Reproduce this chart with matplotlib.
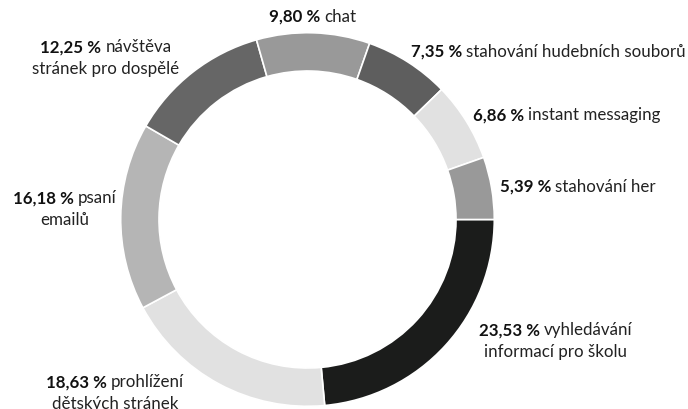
import matplotlib
matplotlib.use('Agg')
import matplotlib.pyplot as plt

plt.rcParams['font.family'] = ['Lato', 'DejaVu Sans']

# data (order clockwise from 3 o'clock)
values = [23.53, 18.63, 16.18, 12.25, 9.80, 7.35, 6.86, 5.39]
pct_text = ['23,53 %', '18,63 %', '16,18 %', '12,25 %', '9,80 %', '7,35 %', '6,86 %', '5,39 %']
line1 = ['vyhledávání', 'prohlížení', 'psaní', 'návštěva', 'chat',
         'stahování hudebních souborů', 'instant messaging', 'stahování her']
line2 = ['informací pro školu', 'dětských stránek', 'emailů', 'stránek pro dospělé',
         None, None, None, None]
colors = ['#1b1c1b', '#e1e1e1', '#b5b5b5', '#666666', '#999999', '#5e5e5e', '#e1e1e1', '#999999']

# label layout (data coords, radius 1 = outer edge) and alignment
label_xy = [(1.33, -0.653), (-1.031, -0.93), (-1.298, 0.054), (-1.079, 0.862),
            (0.029, 1.084), (0.554, 0.897), (0.886, 0.559), (1.031, 0.174)]
label_ha = ['center', 'center', 'center', 'center', 'center', 'left', 'left', 'left']

W, H = 688, 409
cx, cy, R = 307.5, 219.5, 186.8
fig = plt.figure(figsize=(W / 100, H / 100), dpi=100)
ax = fig.add_axes([(cx - R) / W, (H - cy - R) / H, 2 * R / W, 2 * R / H])
ax.pie(values, colors=colors, startangle=0, counterclock=False, radius=1,
       wedgeprops=dict(width=0.205, edgecolor='white', linewidth=1.2))
ax.set_xlim(-1, 1)
ax.set_ylim(-1, 1)
ax.set_aspect('equal')
ax.axis('off')

fs = 12.2
rend = fig.canvas.get_renderer()
gap = 4
lh = 22


def put_label(xy, bold, rest, second, ha):
    tb = ax.annotate(bold, xy=xy, xytext=(0, 0), textcoords='offset pixels',
                     fontsize=fs, fontweight='bold', color='#111111', ha='left', va='center',
                     annotation_clip=False)
    tr = ax.annotate(rest, xy=xy, xytext=(0, 0), textcoords='offset pixels',
                     fontsize=fs, color='#222222', ha='left', va='center',
                     annotation_clip=False)
    wb = tb.get_window_extent(rend).width
    wr = tr.get_window_extent(rend).width
    total = wb + gap + wr
    x0 = -total / 2 if ha == 'center' else 0
    y1 = lh / 2 if second else 0
    tb.set_position((x0, y1))
    tr.set_position((x0 + wb + gap, y1))
    if second:
        ax.annotate(second, xy=xy, xytext=(0, -lh / 2), textcoords='offset pixels',
                    fontsize=fs, color='#222222', ha='center', va='center',
                    annotation_clip=False)


for i in range(len(values)):
    put_label(label_xy[i], pct_text[i], line1[i], line2[i], label_ha[i])

fig.savefig('out.png', dpi=100)
